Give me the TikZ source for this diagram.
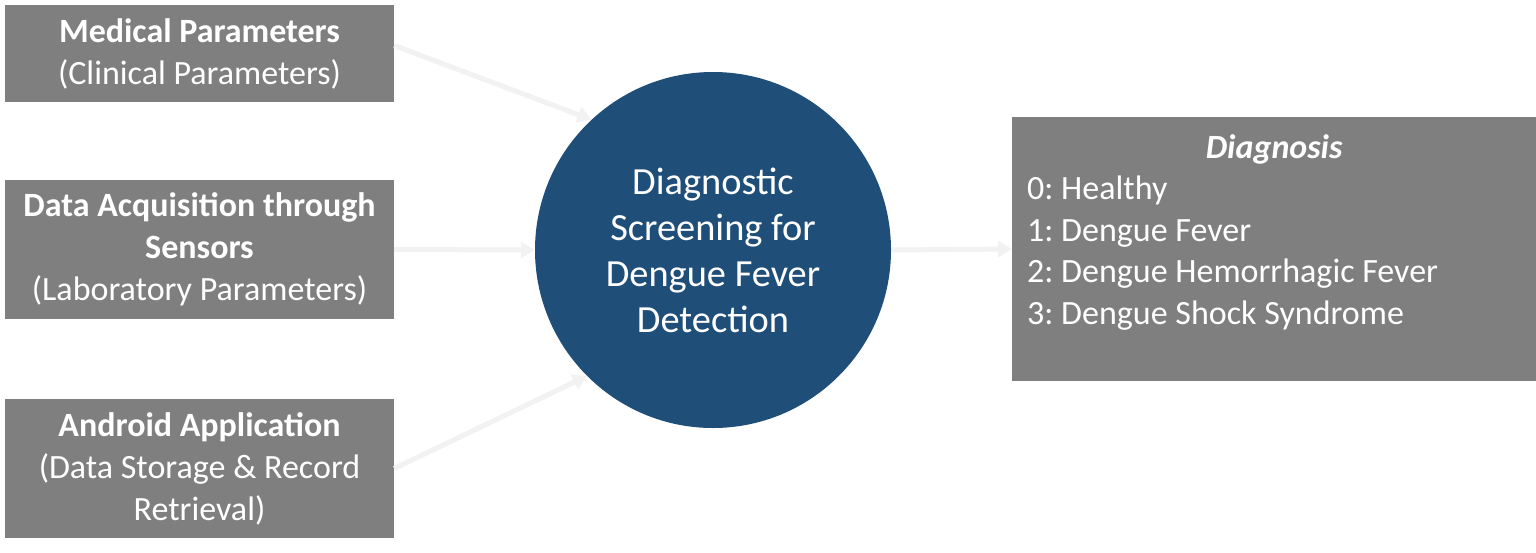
\documentclass[tikz,border=0pt]{standalone}
\usepackage{fontspec}
\setmainfont{Carlito}
\usetikzlibrary{arrows.meta,calc}
\definecolor{boxgray}{HTML}{7F7F7F}
\definecolor{circblue}{HTML}{1F4E79}
\definecolor{arrgray}{HTML}{F2F2F2}
\frenchspacing
\begin{document}
\begin{tikzpicture}[x=1pt,y=-1pt,
  inbox/.style={rectangle, fill=boxgray, text=white, minimum width=389pt, align=center, inner sep=0pt, font=\fontsize{34}{42}\selectfont},
  hub/.style={circle, fill=circblue, text=white, minimum size=356pt, inner sep=0pt, align=center, font=\fontsize{38.4}{46}\selectfont},
  outbox/.style={rectangle, fill=boxgray, minimum width=524pt, minimum height=264pt, inner sep=0pt},
  outtext/.style={text=white, align=left, inner sep=0pt, font=\fontsize{34}{41.5}\selectfont},
  flow/.style={draw=arrgray, line width=5pt, -{Triangle[width=16pt,length=14pt]}}
]
\useasboundingbox (0,0) rectangle (1536,552);
\fill[white] (0,0) rectangle (1536,552);
\node[inbox, minimum height=97pt] (m1) at (199.5,53.5) {\textbf{Medical Parameters}\\(Clinical Parameters)};
\node[inbox, minimum height=139pt] (m2) at (199.5,249.5) {\textbf{Data Acquisition through}\\\textbf{Sensors}\\(Laboratory Parameters)};
\node[inbox, minimum height=139pt] (m3) at (199.5,468.5) {\textbf{Android Application}\\(Data Storage \& Record\\Retrieval)};
\node[hub] (c) at (713,250) {Diagnostic\\Screening for\\Dengue Fever\\Detection};
\node[outbox] (d) at (1274,249) {};
\node[outtext, anchor=north west] (dt) at (1027,134) {\makebox[494pt][c]{\textbf{\textit{Diagnosis}}}\\0: Healthy\\1: Dengue Fever\\2: Dengue Hemorrhagic Fever\\3: Dengue Shock Syndrome};
\draw[flow] ([yshift=8pt]m1.east) -- (c.133);
\draw[flow] (m2.east) -- (c.west);
\draw[flow] (m3.east) -- (c.225);
\draw[flow] (c.east) -- (d.west);
\end{tikzpicture}
\end{document}
